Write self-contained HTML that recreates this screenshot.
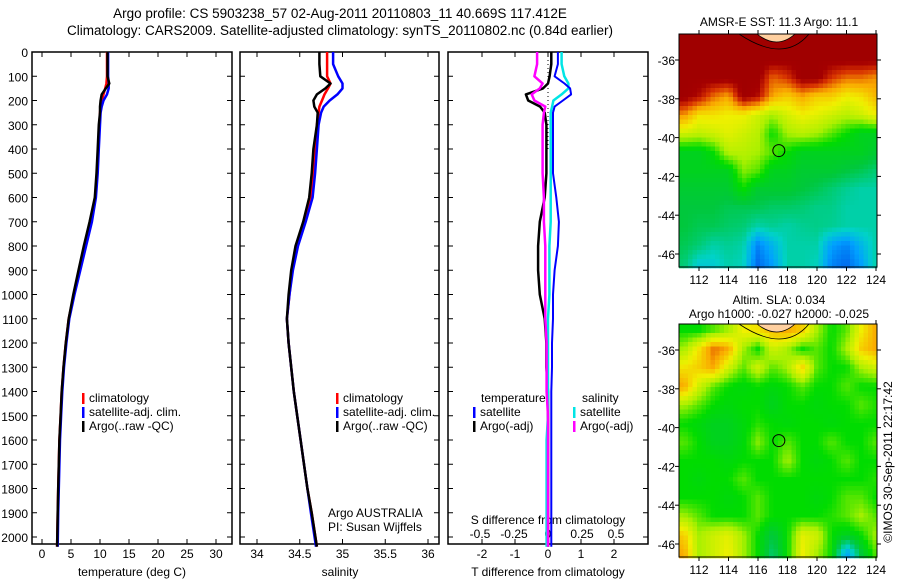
<!DOCTYPE html>
<html><head><meta charset="utf-8"><style>
body{margin:0;background:#fff;}
svg{display:block;font-family:"Liberation Sans",sans-serif;}
text{fill:#000;}
</style></head><body>
<svg id="s" width="900" height="580" viewBox="0 0 900 580">
<rect width="900" height="580" fill="#fff"/>
<text x="340" y="18" font-size="13.5" text-anchor="middle">Argo profile: CS 5903238_57 02-Aug-2011 20110803_11 40.669S 117.412E</text>
<text x="340" y="35" font-size="13.5" text-anchor="middle">Climatology: CARS2009. Satellite-adjusted climatology: synTS_20110802.nc (0.84d earlier)</text>
<g id="g"></g>
</svg>
<script>
// ---------- data ----------
const depthTicks=[0,100,200,300,400,500,600,700,800,900,1000,1100,1200,1300,1400,1500,1600,1700,1800,1900,2000];
const depths=[0,50,100,130,150,175,200,225,250,300,400,500,600,700,800,900,1000,1100,1200,1300,1400,1500,1600,1700,1800,1900,2040];
const tClim=[11.2,11.2,11.2,11.1,10.9,10.6,10.3,10.1,10.0,9.9,9.7,9.5,9.2,8.4,7.4,6.4,5.5,4.6,4.1,3.7,3.4,3.2,3.0,2.9,2.8,2.7,2.6];
const tSat=[11.4,11.4,11.4,11.5,11.5,11.2,10.6,10.3,10.1,10.0,9.8,9.6,9.3,8.6,7.6,6.6,5.6,4.7,4.2,3.8,3.5,3.3,3.1,3.0,2.9,2.8,2.7];
const tArgo=[11.3,11.3,11.3,11.6,11.0,10.3,10.1,10.0,10.0,9.8,9.6,9.4,9.1,8.2,7.2,6.3,5.4,4.6,4.1,3.7,3.4,3.2,3.0,2.9,2.8,2.7,2.6];
const sClim=[34.82,34.82,34.82,34.86,34.83,34.79,34.76,34.73,34.72,34.70,34.68,34.66,34.63,34.56,34.47,34.41,34.38,34.35,34.37,34.40,34.43,34.47,34.51,34.55,34.59,34.64,34.70];
const sSat=[34.89,34.89,34.95,35.00,35.00,34.94,34.85,34.78,34.75,34.72,34.70,34.68,34.65,34.57,34.48,34.42,34.38,34.35,34.37,34.40,34.43,34.47,34.51,34.55,34.59,34.63,34.69];
const sArgo=[34.73,34.73,34.74,34.86,34.80,34.70,34.66,34.67,34.71,34.70,34.66,34.64,34.61,34.54,34.45,34.40,34.37,34.35,34.37,34.40,34.43,34.47,34.51,34.55,34.59,34.64,34.70];
const dTsat=[0.3,0.3,0.2,0.5,0.67,0.7,0.45,0.2,0.15,0.15,0.15,0.15,0.25,0.33,0.3,0.2,0.15,0.15,0.12,0.12,0.1,0.1,0.1,0.1,0.1,0.1,0.1];
const dTargo=[0.1,0.1,0.05,0.0,-0.15,-0.67,-0.6,-0.24,-0.1,-0.05,-0.05,-0.05,-0.1,-0.25,-0.3,-0.3,-0.25,-0.1,-0.05,-0.05,0,0,0,0,0,0,0];
const dSsat=[0.1,0.1,0.12,0.15,0.15,0.1,0.04,0.03,0.02,0.02,0.02,0.02,0.02,0.02,0.01,0.01,0.01,0.0,0.0,0.0,0.0,0.0,-0.01,-0.01,-0.01,-0.01,-0.01];
const dSargo=[-0.08,-0.08,-0.1,-0.04,-0.06,-0.12,-0.1,-0.02,-0.03,-0.04,-0.04,-0.04,-0.03,-0.03,-0.02,-0.02,-0.02,-0.02,-0.01,-0.01,-0.01,0,0,0,0,0,0];
const tTicks=[0,5,10,15,20,25,30];
const sTicks=[34,34.5,35,35.5,36];
const dtTicks=[-2,-1,0,1,2];
const dsTicks=[-0.5,-0.25,0,0.25,0.5];
const lonTicks=[112,114,116,118,120,122,124];
const latTicks=[-36,-38,-40,-42,-44,-46];
// SST grid rows lat -35..-46.5, cols lon 111..124 (colour index 0..1)
const sstGrid=[
[1,1,1,1,1,1,1,1,1,1,1,1,1,1],
[1,1,1,1,1,1,1,1,1,1,1,1,1,1],
[1,1,1,1,1,1,0.86,0.9,1,1,0.9,0.85,0.85,0.82],
[1,0.95,0.85,0.8,1,0.95,0.8,0.75,0.8,0.75,0.75,0.7,0.72,0.78],
[0.82,0.72,0.72,0.7,0.7,0.65,0.6,0.66,0.7,0.68,0.65,0.62,0.65,0.7],
[0.65,0.63,0.65,0.68,0.65,0.62,0.5,0.6,0.62,0.6,0.55,0.5,0.45,0.45],
[0.45,0.45,0.5,0.62,0.62,0.6,0.55,0.5,0.45,0.45,0.45,0.45,0.45,0.42],
[0.45,0.45,0.45,0.45,0.58,0.55,0.45,0.45,0.42,0.42,0.42,0.4,0.38,0.35],
[0.42,0.42,0.42,0.42,0.5,0.42,0.42,0.42,0.4,0.38,0.35,0.32,0.3,0.3],
[0.4,0.4,0.4,0.38,0.38,0.38,0.36,0.36,0.35,0.33,0.33,0.3,0.3,0.3],
[0.4,0.38,0.38,0.36,0.35,0.3,0.32,0.3,0.32,0.33,0.32,0.3,0.3,0.3],
[0.38,0.35,0.3,0.32,0.3,0.1,0.2,0.3,0.3,0.3,0.15,0.1,0.2,0.3],
[0.35,0.25,0.25,0.3,0.28,0.05,0.15,0.3,0.3,0.28,0.1,0.05,0.15,0.3]];
const slaGrid=[
[0.5,0.5,0.55,0.6,0.7,0.72,0.78,0.8,0.75,0.6,0.5,0.55,0.7,0.8],
[0.6,0.72,0.85,0.8,0.6,0.5,0.65,0.6,0.5,0.55,0.5,0.6,0.75,0.8],
[0.72,0.75,0.8,0.65,0.55,0.65,0.55,0.6,0.75,0.55,0.5,0.5,0.6,0.65],
[0.8,0.65,0.55,0.5,0.48,0.5,0.48,0.5,0.55,0.5,0.5,0.55,0.5,0.5],
[0.6,0.55,0.5,0.48,0.5,0.5,0.45,0.5,0.5,0.48,0.5,0.5,0.55,0.52],
[0.5,0.48,0.45,0.45,0.48,0.52,0.5,0.48,0.5,0.5,0.48,0.5,0.5,0.5],
[0.55,0.5,0.45,0.45,0.48,0.58,0.5,0.55,0.5,0.5,0.55,0.5,0.5,0.55],
[0.5,0.5,0.5,0.48,0.5,0.5,0.5,0.6,0.5,0.48,0.5,0.55,0.5,0.5],
[0.5,0.48,0.5,0.5,0.55,0.5,0.5,0.5,0.5,0.5,0.5,0.5,0.5,0.52],
[0.5,0.5,0.5,0.48,0.5,0.55,0.5,0.5,0.5,0.48,0.5,0.55,0.55,0.5],
[0.6,0.55,0.5,0.5,0.5,0.55,0.5,0.5,0.5,0.5,0.52,0.55,0.6,0.55],
[0.75,0.6,0.65,0.68,0.6,0.5,0.4,0.5,0.68,0.65,0.5,0.45,0.5,0.6],
[0.8,0.6,0.65,0.7,0.6,0.5,0.35,0.5,0.7,0.6,0.5,0.15,0.4,0.55]];
// ---------- helpers ----------
const NS="http://www.w3.org/2000/svg";
const G=document.getElementById('g');
function mk(tag,at,parent){const e=document.createElementNS(NS,tag);for(const k in at)e.setAttribute(k,at[k]);(parent||G).appendChild(e);return e;}
function txt(x,y,s,sz,anchor,name){const e=mk('text',{x:x,y:y,'font-size':sz||12,'text-anchor':anchor||'middle'});e.textContent=s;


return e;}
const yTop=52, yBot=544;
const yD=d=>yTop+d*0.2425;
const xT=t=>42+5.8*t;
const xS=s=>257+85.5*(s-34);
const xDT=v=>548+33*v;
const xDS=v=>548+136*v;
function frame(x0,x1,name){
 const r=mk('rect',{x:x0,y:yTop,width:x1-x0,height:yBot-yTop,fill:'none',stroke:'#000','stroke-width':1.5});
 
 
 depthTicks.forEach(d=>{mk('line',{x1:x0,x2:x0+5,y1:yD(d),y2:yD(d),stroke:'#000'});mk('line',{x1:x1,x2:x1-5,y1:yD(d),y2:yD(d),stroke:'#000'});});
}
function xticks(vals,fx,name,labelY){vals.forEach(v=>{const x=fx(v);mk('line',{x1:x,x2:x,y1:yTop,y2:yTop+5,stroke:'#000'});mk('line',{x1:x,x2:x,y1:yBot,y2:yBot-5,stroke:'#000'});
 txt(x,labelY,String(v),12,'middle',name);});}
function prof(vals,fx,color,w,name){const pts=vals.map((v,i)=>fx(v).toFixed(1)+','+yD(depths[i]).toFixed(1)).join(' ');
 const p=mk('polyline',{points:pts,fill:'none',stroke:color,'stroke-width':w,'stroke-linejoin':'round'});
 
 }
function legend(x,y,items){items.forEach((it,i)=>{mk('rect',{x:x,y:y+i*14-9,width:2.5,height:11,fill:it[1]});txt(x+7,y+i*14,it[0],12,'start','legend-entry');});}
// panel 1
frame(32,232,'temperature-panel');
depthTicks.forEach(d=>txt(28,yD(d)+5,String(d),12,'end','depth-tick-label'));
xticks(tTicks,xT,'temperature-tick-label',558);
txt(132,576,'temperature (deg C)',12,'middle','temperature-axis-title');
prof(tClim,xT,'#f00',2.5,'temp-climatology-line');
prof(tSat,xT,'#00f',2.5,'temp-satellite-line');
prof(tArgo,xT,'#000',2.5,'temp-argo-line');
legend(82,402,[['climatology','#f00'],['satellite-adj. clim.','#00f'],['Argo(..raw -QC)','#000']]);
// panel 2
frame(240,439,'salinity-panel');
xticks(sTicks,xS,'salinity-tick-label',558);
txt(340,576,'salinity',12,'middle','salinity-axis-title');
prof(sClim,xS,'#f00',2.5,'sal-climatology-line');
prof(sSat,xS,'#00f',2.5,'sal-satellite-line');
prof(sArgo,xS,'#000',2.5,'sal-argo-line');
legend(336,402,[['climatology','#f00'],['satellite-adj. clim.','#00f'],['Argo(..raw -QC)','#000']]);
txt(328,517,'Argo AUSTRALIA',12,'start','argo-australia-label');
txt(328,531,'PI: Susan Wijffels',12,'start','pi-label');
// panel 3
frame(448,648,'difference-panel');
mk('line',{x1:548,x2:548,y1:yTop,y2:yD(400),stroke:'#000','stroke-dasharray':'1,3'});
xticks(dtTicks,xDT,'t-diff-tick-label',558);
dsTicks.forEach(v=>txt(xDS(v),538,String(v),12,'middle','s-diff-tick-label'));
txt(548,524,'S difference from climatology',12,'middle','s-diff-axis-title');
txt(548,576,'T difference from climatology',12,'middle','t-diff-axis-title');
prof(dTargo,xDT,'#000',2.5,'tdiff-argo-line');
prof(dSsat,xDS,'#00e5e5',2.5,'sdiff-satellite-line');
prof(dTsat,xDT,'#00f',2,'tdiff-satellite-line');
prof(dSargo,xDS,'#f0f',2.5,'sdiff-argo-line');
txt(481,402,'temperature',12,'start','legend-temperature-heading');
txt(582,402,'salinity',12,'start','legend-salinity-heading');
legend(473,416,[['satellite','#00f'],['Argo(-adj)','#000']]);
legend(573,416,[['satellite','#00e5e5'],['Argo(-adj)','#f0f']]);
// ---------- maps ----------
const cmap=[[0,[0,80,230]],[0.15,[0,160,255]],[0.27,[0,210,200]],[0.4,[0,200,60]],[0.5,[0,220,0]],[0.6,[170,240,0]],[0.7,[240,240,0]],[0.8,[250,170,0]],[0.9,[215,50,0]],[0.97,[165,0,0]],[1,[160,0,0]]];
function col(v){v=Math.max(0,Math.min(1,v));for(let i=1;i<cmap.length;i++){if(v<=cmap[i][0]){const a=cmap[i-1],b=cmap[i],f=(v-a[0])/(b[0]-a[0]);return 'rgb('+a[1].map((c,k)=>Math.round(c+(b[1][k]-c)*f)).join(',')+')';}}return 'rgb(160,0,0)';}
function map(x0,y0,grid,name,title1,title2){
 const W=198,H=233;const lonX=l=>699+(l-112)*14.75;const latY=la=>y0+26+(-36-la)*19.4;
 const g=mk('g',{});
 const cell=4.5;
 for(let yy=0;yy<H;yy+=cell)for(let xx=0;xx<W;xx+=cell){
  const lon=110.65+(xx+cell/2)/14.75;
  const la=-34.66-(yy+cell/2)/19.4;
  const gx=Math.max(0,Math.min(12.999,lon-111)), gy=Math.max(0,Math.min(11.999,(-35-la)/((46.5-35)/12)));
  const ix=Math.floor(gx),iy=Math.floor(gy),fx=gx-ix,fy=gy-iy;
  const v=(grid[iy][ix]*(1-fx)+grid[iy][ix+1]*fx)*(1-fy)+(grid[iy+1][ix]*(1-fx)+grid[iy+1][ix+1]*fx)*fy;
  mk('rect',{x:x0+xx,y:y0+yy,width:cell+0.3,height:cell+0.3,fill:col(v)},g);
 }
 mk('path',{d:`M${x0+78} ${y0} Q${x0+98} ${y0+16} ${x0+116} ${y0}`,fill:'#ffd0a0',stroke:'#000','stroke-width':0.8},g);
 mk('path',{d:`M${x0+60} ${y0} Q${x0+105} ${y0+30} ${x0+130} ${y0}`,fill:'none',stroke:'#000','stroke-width':0.8},g);
 mk('rect',{x:x0,y:y0,width:W,height:H,fill:'none',stroke:'#000','stroke-width':1},g);
 const c=mk('circle',{cx:lonX(117.412),cy:latY(-40.669),r:6,fill:'none',stroke:'#000','stroke-width':1});
 
 lonTicks.forEach(l=>{const x=lonX(l);mk('line',{x1:x,x2:x,y1:y0+H,y2:y0+H+4,stroke:'#000'});mk('line',{x1:x,x2:x,y1:y0,y2:y0-4,stroke:'#000'});txt(x,y0+H+17,String(l),12,'middle','lon-tick-label');});
 latTicks.forEach(la=>{const y=latY(la);mk('line',{x1:x0,x2:x0-4,y1:y,y2:y,stroke:'#000'});mk('line',{x1:x0+W,x2:x0+W+4,y1:y,y2:y,stroke:'#000'});txt(x0-4,y+5,String(la),12,'end','lat-tick-label');});
 if(title1)txt(x0+100,y0-(title2?20:8),title1,12,'middle','map-title');
 if(title2)txt(x0+100,y0-6,title2,12,'middle','map-subtitle');
}
map(679,34,sstGrid,'sst-map','AMSR-E SST: 11.3 Argo: 11.1');
map(679,324,slaGrid,'sla-map','Altim. SLA: 0.034','Argo h1000: -0.027 h2000: -0.025');
const r=txt(0,0,'©IMOS 30-Sep-2011 22:17:42',12,'middle','imos-timestamp');
r.setAttribute('transform','translate(892,462) rotate(-90)');
</script>
</body></html>
